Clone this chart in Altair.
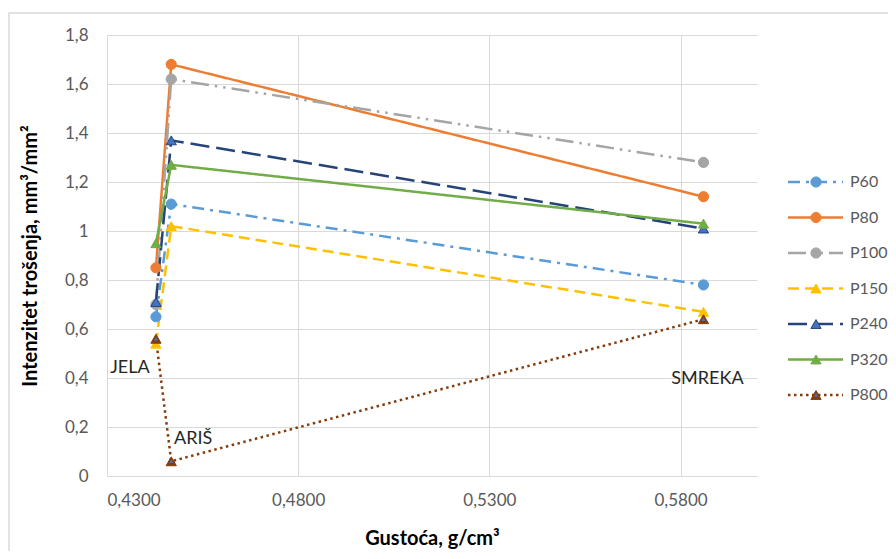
import altair as alt
import pandas as pd

# ---- data ----
series = ["P60", "P80", "P100", "P150", "P240", "P320", "P800"]
woods = ["JELA", "ARIŠ", "SMREKA"]
density = [0.4428, 0.4468, 0.5860]
values = {
    "P60":  [0.65, 1.11, 0.78],
    "P80":  [0.85, 1.68, 1.14],
    "P100": [0.70, 1.62, 1.28],
    "P150": [0.54, 1.02, 0.67],
    "P240": [0.71, 1.37, 1.01],
    "P320": [0.95, 1.27, 1.03],
    "P800": [0.56, 0.06, 0.64],
}
colors = ["#5B9BD5", "#ED7D31", "#A5A5A5", "#FFC000", "#264478", "#70AD47", "#843C0C"]
fills = ["#5B9BD5", "#ED7D31", "#A5A5A5", "#FFC000", "#4472C4", "#70AD47", "#843C0C"]
dashes = [[12, 6, 3, 6], [1, 0], [18, 6, 2.5, 6, 2.5, 6], [11, 6], [19, 7], [1, 0], [2.5, 3.5]]
shapes = ["circle", "circle", "circle", "triangle-up", "triangle-up", "triangle-up", "triangle-up"]
y_ticks = [0, 0.2, 0.4, 0.6, 0.8, 1.0, 1.2, 1.4, 1.6, 1.8]
x_ticks = [0.43, 0.48, 0.53, 0.58]

rows = []
for s in series:
    for w, d, v in zip(woods, density, values[s]):
        rows.append({"series": s, "wood": w, "density": d, "value": v})
df = pd.DataFrame(rows)
leg = pd.DataFrame({"series": series})

FONT = "Lato"
W, H = 650, 441

color_sc = alt.Scale(domain=series, range=colors)
fill_sc = alt.Scale(domain=series, range=fills)
dash_sc = alt.Scale(domain=series, range=dashes)
shape_sc = alt.Scale(domain=series, range=shapes)

x_enc = alt.X("density:Q",
              scale=alt.Scale(domain=[0.43, 0.60], nice=False, zero=False),
              axis=alt.Axis(values=x_ticks, title="Gustoća, g/cm³",
                            labelExpr="replace(format(datum.value, '.4f'), '.', ',')",
                            ticks=False, domain=False, labelPadding=16, titlePadding=20,
                            gridColor="#D9D9D9", labelColor="#595959", labelFontSize=17,
                            labelFont=FONT, titleFont=FONT, titleFontSize=20,
                            titleFontWeight="bold", titleColor="#000000"))
y_enc = alt.Y("value:Q",
              scale=alt.Scale(domain=[0, 1.8], nice=False),
              axis=alt.Axis(values=y_ticks, title="Intenzitet trošenja, mm³/mm²",
                            labelExpr="replace(format(datum.value, '~g'), '.', ',')",
                            ticks=False, domain=False, labelPadding=19, titlePadding=24,
                            gridColor="#D9D9D9", labelColor="#595959", labelFontSize=17,
                            labelFont=FONT, titleFont=FONT, titleFontSize=20,
                            titleFontWeight="bold", titleColor="#000000"))

base = alt.Chart(df)

frame = alt.Chart(pd.DataFrame({"a": [0]})).mark_rect(
    fill=None, stroke="#D9D9D9", strokeWidth=1.5
).encode(x=alt.value(-98), x2=alt.value(W + 140), y=alt.value(-22), y2=alt.value(H + 80))

lines = base.mark_line(strokeWidth=2.5).encode(
    x=x_enc, y=y_enc,
    color=alt.Color("series:N", scale=color_sc, legend=None),
    strokeDash=alt.StrokeDash("series:N", scale=dash_sc, legend=None),
    order=alt.Order("density:Q"),
)

points = base.mark_point(filled=True, size=105, strokeWidth=1, opacity=1).encode(
    x="density:Q", y="value:Q",
    shape=alt.Shape("series:N", scale=shape_sc, legend=None),
    fill=alt.Fill("series:N", scale=fill_sc, legend=None),
    stroke=alt.Stroke("series:N", scale=color_sc, legend=None),
)

inner = base.transform_filter(alt.datum.series == "P800").mark_point(
    filled=True, size=16, shape="triangle-up", color="#4472C4", opacity=1
).encode(x="density:Q", y="value:Q")

def label(wood, dx, dy):
    return base.transform_filter(
        (alt.datum.series == "P800") & (alt.datum.wood == wood)
    ).mark_text(font=FONT, fontSize=18, color="#262626", dx=dx, dy=dy, align="center").encode(
        x="density:Q", y="value:Q", text="wood:N")

labels = label("JELA", -26, 29) + label("ARIŠ", 22, -22) + label("SMREKA", 4, 60)

main = alt.layer(frame, lines, points, inner, labels)

# ---- legend built from the series list ----
leg_y = alt.Y("series:N", sort=series,
              scale=alt.Scale(type="point", domain=series, range=[147, 360], padding=0),
              axis=None)
leg_base = alt.Chart(leg)
leg_rule = leg_base.mark_rule(strokeWidth=2.5).encode(
    x=alt.value(681), x2=alt.value(736), y=leg_y,
    color=alt.Color("series:N", scale=color_sc, legend=None),
    strokeDash=alt.StrokeDash("series:N", scale=dash_sc, legend=None),
)
leg_pt = leg_base.mark_point(filled=True, size=105, strokeWidth=1, opacity=1).encode(
    x=alt.value(709), y=leg_y,
    shape=alt.Shape("series:N", scale=shape_sc, legend=None),
    fill=alt.Fill("series:N", scale=fill_sc, legend=None),
    stroke=alt.Stroke("series:N", scale=color_sc, legend=None),
)
leg_inner = leg_base.transform_filter(alt.datum.series == "P800").mark_point(
    filled=True, size=16, shape="triangle-up", color="#4472C4", opacity=1
).encode(x=alt.value(709), y=leg_y)
leg_txt = leg_base.mark_text(font=FONT, fontSize=16, color="#595959", align="left",
                             baseline="middle").encode(
    x=alt.value(743), y=leg_y, text="series:N")
legend = alt.layer(leg_rule, leg_pt, leg_inner, leg_txt)

chart = alt.layer(main, legend).resolve_scale(y="independent").properties(
    width=W, height=H,
    autosize=alt.AutoSizeParams(type="none"),
    padding={"left": 99, "top": 27, "right": 131, "bottom": 75},
    background="#FFFFFF",
).configure_view(stroke=None)

chart.save("out.html", embed_options={"renderer": "svg", "actions": False})
